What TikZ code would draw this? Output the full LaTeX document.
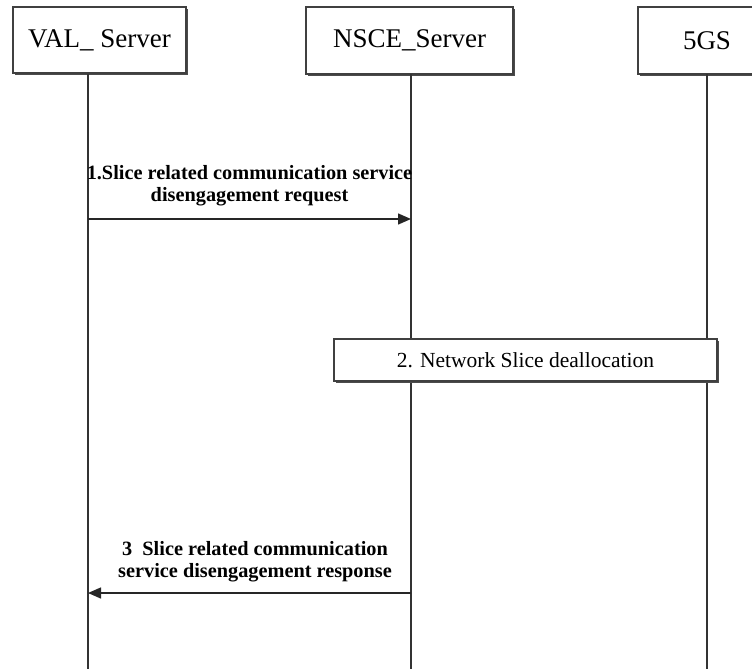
\documentclass[tikz,border=0pt]{standalone}
\usepackage{fontspec}
\setmainfont{Liberation Serif}
\usetikzlibrary{arrows.meta,shadows}
\begin{document}
\begin{tikzpicture}[x=1pt,y=-1pt,
  lifeline/.style={draw=black!80,line width=1.5pt},
  boxed/.style={draw=black!75,line width=1.1pt,fill=white,inner sep=0pt,
    drop shadow={shadow xshift=1.8pt,shadow yshift=-1.8pt,fill=black!70,opacity=1}},
  actor/.style={boxed,font=\fontsize{27}{30}\selectfont},
  action/.style={boxed,font=\fontsize{21.5}{24}\selectfont},
  msg/.style={draw=black!85,line width=1.4pt,-{Triangle[length=13pt,width=11pt]}},
  msglabel/.style={font=\bfseries\fontsize{20.3}{22}\selectfont,align=center,inner sep=0pt}
]
\useasboundingbox (0,0) rectangle (752,669);
% actors
\node[actor,minimum width=173pt,minimum height=66pt] (val) at (99.5,40) {VAL\_ Server};
\node[actor,minimum width=207pt,minimum height=67pt] (nsce) at (409.5,40.5) {NSCE\_Server};
\node[actor,minimum width=138pt,minimum height=67pt] (fgs) at (707,40.5) {5GS};
% lifelines
\coordinate (vtop) at (88,74);   \coordinate (vbot) at (88,669);
\coordinate (ntop) at (411,74); \coordinate (nbot) at (411,669);
\coordinate (ftop) at (707,74); \coordinate (fbot) at (707,669);
\draw[lifeline] (vtop) -- (vbot);
\draw[lifeline] (ntop) -- (nbot);
\draw[lifeline] (ftop) -- (fbot);
% message 1
\coordinate (m1s) at (88,219); \coordinate (m1e) at (411,219);
\draw[msg] (m1s) -- (m1e);
\node[msglabel] (l1) at (249.5,186) {1.Slice related communication service\\disengagement request};
% step 2
\node[action,minimum width=383pt,minimum height=42pt] (dealloc) at (525.5,360) {2. Network Slice deallocation};
% message 3
\coordinate (m3s) at (411,593); \coordinate (m3e) at (88,593);
\draw[msg] (m3s) -- (m3e);
\node[msglabel] (l3) at (255,562) {3\ \ Slice related communication\\service disengagement response};
\end{tikzpicture}
\end{document}
